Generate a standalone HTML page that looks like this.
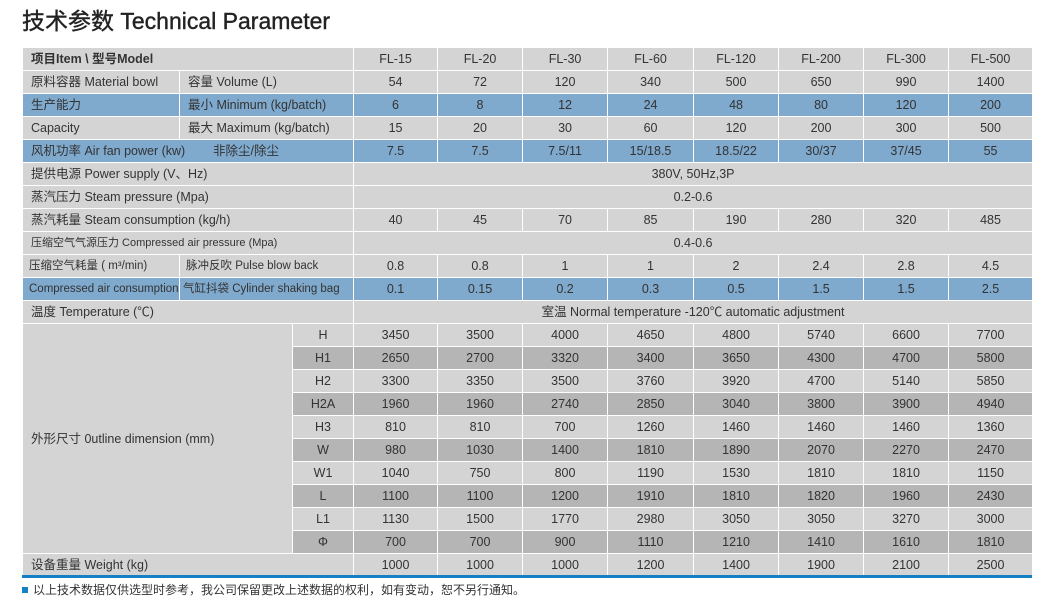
<!DOCTYPE html>
<html><head><meta charset="utf-8"><style>
body{margin:0;width:1047px;height:606px;background:#fff;position:relative;overflow:hidden;font-family:"Liberation Sans","Noto Sans CJK SC",sans-serif;color:#333}
h1{position:absolute;left:22px;top:6px;margin:0;font-size:23px;font-weight:normal;color:#222;line-height:30px;-webkit-text-stroke:0.4px #222}
table{position:absolute;left:22px;top:47px;border-collapse:collapse;table-layout:fixed;width:1010px;font-size:12.5px}
td{height:22px;padding:0;border:1px solid #fff;background:#d4d4d4;text-align:center;white-space:nowrap;overflow:hidden;line-height:22px}
td.l{text-align:left;padding-left:8px}
td.sm{font-size:11.5px;padding-left:6px}
tr.b td{background:#7fa9cd}
tr.d td.s,tr.d td.v{background:#b5b5b5}
.bar{position:absolute;left:22px;top:575px;width:1010px;height:3px;background:#1481c6}
.note{position:absolute;left:22px;top:582px;font-size:12px;color:#333;line-height:16px}
.note i{display:inline-block;width:6px;height:6px;background:#1481c6;margin-right:5px;vertical-align:1px}
</style></head><body>
<h1>技术参数 Technical Parameter</h1>
<table>
<colgroup><col style="width:157px"><col style="width:113px"><col style="width:61px"><col style="width:84px"><col style="width:85px"><col style="width:85px"><col style="width:86px"><col style="width:85px"><col style="width:85px"><col style="width:85px"><col style="width:84px"></colgroup>
<tr><td class="l" colspan="3" style="font-weight:bold">项目Item \ 型号Model</td><td>FL-15</td><td>FL-20</td><td>FL-30</td><td>FL-60</td><td>FL-120</td><td>FL-200</td><td>FL-300</td><td>FL-500</td></tr>
<tr><td class="l">原料容器 Material bowl</td><td class="l" colspan="2">容量 Volume (L)</td><td>54</td><td>72</td><td>120</td><td>340</td><td>500</td><td>650</td><td>990</td><td>1400</td></tr>
<tr class="b"><td class="l">生产能力</td><td class="l" colspan="2">最小 Minimum (kg/batch)</td><td>6</td><td>8</td><td>12</td><td>24</td><td>48</td><td>80</td><td>120</td><td>200</td></tr>
<tr><td class="l">Capacity</td><td class="l" colspan="2">最大 Maximum (kg/batch)</td><td>15</td><td>20</td><td>30</td><td>60</td><td>120</td><td>200</td><td>300</td><td>500</td></tr>
<tr class="b"><td class="l" colspan="3">风机功率 Air fan power (kw)&nbsp;&nbsp;&nbsp;&nbsp;&nbsp;&nbsp;&nbsp;&nbsp;非除尘/除尘</td><td>7.5</td><td>7.5</td><td>7.5/11</td><td>15/18.5</td><td>18.5/22</td><td>30/37</td><td>37/45</td><td>55</td></tr>
<tr><td class="l" colspan="3">提供电源 Power supply (V、Hz)</td><td colspan="8">380V, 50Hz,3P</td></tr>
<tr><td class="l" colspan="3">蒸汽压力 Steam pressure (Mpa)</td><td colspan="8">0.2-0.6</td></tr>
<tr><td class="l" colspan="3">蒸汽耗量 Steam consumption (kg/h)</td><td>40</td><td>45</td><td>70</td><td>85</td><td>190</td><td>280</td><td>320</td><td>485</td></tr>
<tr><td class="l" colspan="3" style="font-size:11px">压缩空气气源压力 Compressed air pressure (Mpa)</td><td colspan="8">0.4-0.6</td></tr>
<tr><td class="l sm">压缩空气耗量 ( m³/min)</td><td class="l sm" colspan="2">脉冲反吹 Pulse blow back</td><td>0.8</td><td>0.8</td><td>1</td><td>1</td><td>2</td><td>2.4</td><td>2.8</td><td>4.5</td></tr>
<tr class="b"><td class="l sm">Compressed air consumption</td><td class="l sm" colspan="2" style="padding-left:3px">气缸抖袋 Cylinder shaking bag</td><td>0.1</td><td>0.15</td><td>0.2</td><td>0.3</td><td>0.5</td><td>1.5</td><td>1.5</td><td>2.5</td></tr>
<tr><td class="l" colspan="3">温度 Temperature (℃)</td><td colspan="8">室温 Normal temperature -120℃ automatic adjustment</td></tr>
<tr><td class="l" colspan="2" rowspan="10">外形尺寸 0utline dimension (mm)</td><td class="s">H</td><td class="v">3450</td><td class="v">3500</td><td class="v">4000</td><td class="v">4650</td><td class="v">4800</td><td class="v">5740</td><td class="v">6600</td><td class="v">7700</td></tr>
<tr class="d"><td class="s">H1</td><td class="v">2650</td><td class="v">2700</td><td class="v">3320</td><td class="v">3400</td><td class="v">3650</td><td class="v">4300</td><td class="v">4700</td><td class="v">5800</td></tr>
<tr><td class="s">H2</td><td>3300</td><td>3350</td><td>3500</td><td>3760</td><td>3920</td><td>4700</td><td>5140</td><td>5850</td></tr>
<tr class="d"><td class="s">H2A</td><td class="v">1960</td><td class="v">1960</td><td class="v">2740</td><td class="v">2850</td><td class="v">3040</td><td class="v">3800</td><td class="v">3900</td><td class="v">4940</td></tr>
<tr><td class="s">H3</td><td>810</td><td>810</td><td>700</td><td>1260</td><td>1460</td><td>1460</td><td>1460</td><td>1360</td></tr>
<tr class="d"><td class="s">W</td><td class="v">980</td><td class="v">1030</td><td class="v">1400</td><td class="v">1810</td><td class="v">1890</td><td class="v">2070</td><td class="v">2270</td><td class="v">2470</td></tr>
<tr><td class="s">W1</td><td>1040</td><td>750</td><td>800</td><td>1190</td><td>1530</td><td>1810</td><td>1810</td><td>1150</td></tr>
<tr class="d"><td class="s">L</td><td class="v">1100</td><td class="v">1100</td><td class="v">1200</td><td class="v">1910</td><td class="v">1810</td><td class="v">1820</td><td class="v">1960</td><td class="v">2430</td></tr>
<tr><td class="s">L1</td><td>1130</td><td>1500</td><td>1770</td><td>2980</td><td>3050</td><td>3050</td><td>3270</td><td>3000</td></tr>
<tr class="d"><td class="s">Φ</td><td class="v">700</td><td class="v">700</td><td class="v">900</td><td class="v">1110</td><td class="v">1210</td><td class="v">1410</td><td class="v">1610</td><td class="v">1810</td></tr>
<tr><td class="l" colspan="3">设备重量 Weight (kg)</td><td>1000</td><td>1000</td><td>1000</td><td>1200</td><td>1400</td><td>1900</td><td>2100</td><td>2500</td></tr>
</table>
<div class="bar"></div>
<div class="note"><i></i>以上技术数据仅供选型时参考，我公司保留更改上述数据的权利，如有变动，恕不另行通知。</div>
</body></html>
